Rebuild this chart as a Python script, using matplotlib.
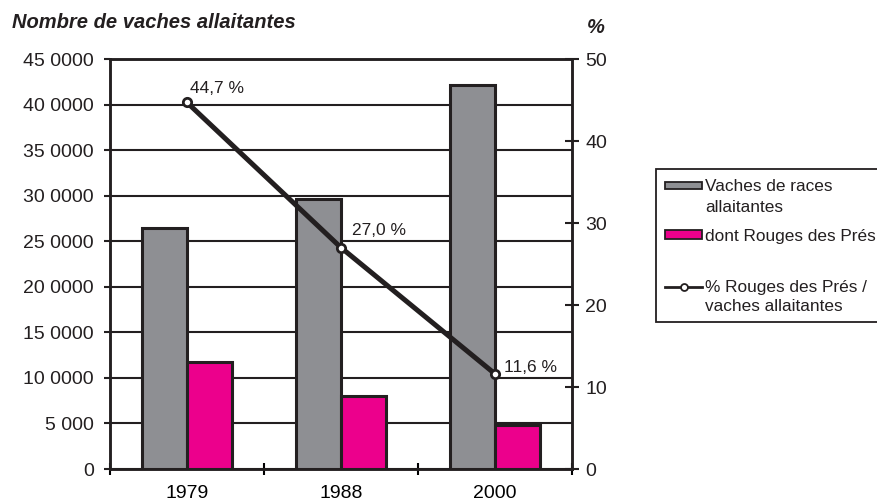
import matplotlib
matplotlib.use("Agg")
import matplotlib.pyplot as plt
from matplotlib.patches import Rectangle
from matplotlib.lines import Line2D

plt.rcParams['font.family'] = ['Liberation Sans', 'DejaVu Sans']

# ---- data ----
categories = ['1979', '1988', '2000']
total_allaitantes = [264000, 296000, 421500]
rouges_des_pres = [117500, 80000, 48500]
pct_rouges = [44.7, 27.0, 11.6]
pct_labels = ['44,7 %', '27,0 %', '11,6 %']
left_ticks = [0, 50000, 100000, 150000, 200000, 250000, 300000, 350000, 400000, 450000]
left_tick_labels = ['0', '5 000', '10 0000', '15 0000', '20 0000', '25 0000',
                    '30 0000', '35 0000', '40 0000', '45 0000']
right_ticks = [0, 10, 20, 30, 40, 50]
right_tick_labels = ['0', '10', '20', '30', '40', '50']
legend_lines = ['Vaches de races', 'allaitantes', 'dont Rouges des Prés',
                '% Rouges des Prés /', 'vaches allaitantes']

GRAY = '#8e8f93'
PINK = '#ec008c'
INK = '#231f20'
W, H = 877, 503

fig = plt.figure(figsize=(W / 100, H / 100), dpi=100)
ax_l, ax_r, ax_t, ax_b = 110, 572, 59, 469
ax = fig.add_axes([ax_l / W, 1 - ax_b / H, (ax_r - ax_l) / W, (ax_b - ax_t) / H])

x = list(range(len(categories)))
bw = 0.29
ax.bar([i - bw / 2 for i in x], total_allaitantes, width=bw, color=GRAY,
       edgecolor=INK, linewidth=2.2, zorder=2)
ax.bar([i + bw / 2 for i in x], rouges_des_pres, width=bw, color=PINK,
       edgecolor=INK, linewidth=2.2, zorder=2)

ax.set_xlim(-0.5, 2.5)
ax.set_ylim(0, 450000)
ax.set_yticks(left_ticks)
ax.set_yticklabels(left_tick_labels, fontsize=14)
ax.yaxis.grid(True, color=INK, linewidth=1.5)
ax.set_axisbelow(True)
ax.tick_params(axis='y', direction='out', length=4.5, width=1.5, pad=7, colors=INK)
ax.set_xticks([-0.5, 0.5, 1.5, 2.5])
ax.set_xticklabels([])
ax.set_xticks(x, minor=True)
ax.set_xticklabels(categories, minor=True, fontsize=14)
ax.tick_params(axis='x', which='major', direction='inout', length=9, width=1.5)
ax.tick_params(axis='x', which='minor', length=0, pad=11.5)
for s in ax.spines.values():
    s.set_color(INK)
    s.set_linewidth(1.8)

ax2 = ax.twinx()
ax2.set_ylim(0, 50)
ax2.set_yticks(right_ticks)
ax2.set_yticklabels(right_tick_labels, fontsize=14)
ax2.tick_params(axis='y', direction='inout', length=10, width=1.5, pad=4.5, colors=INK)
for s in ax2.spines.values():
    s.set_color(INK)
    s.set_linewidth(1.8)
ax2.plot(x, pct_rouges, color=INK, linewidth=3.6, marker='o', markersize=6,
         markerfacecolor='white', markeredgecolor=INK, markeredgewidth=2, zorder=5)
offsets = [(2, 10), (8, 12), (6.5, 4.3)]
for xi, yi, lab, off in zip(x, pct_rouges, pct_labels, offsets):
    ax2.annotate(lab, (xi, yi), xytext=off, textcoords='offset points',
                 ha='left', va='center', fontsize=12.5, color=INK)

fig.text(12 / W, 1 - 22.5 / H, 'Nombre de vaches allaitantes', fontsize=14.5,
         fontweight='bold', style='italic', ha='left', va='center', color=INK)
fig.text(587 / W, 1 - 27.5 / H, '%', fontsize=14.5, fontweight='bold', style='italic',
         ha='left', va='center', color=INK)

# ---- legend (drawn in figure pixel coords) ----
def fx(px):
    return px / W

def fy(py):
    return 1 - py / H

fig.add_artist(Rectangle((fx(656), fy(322)), fx(890) - fx(656), fy(169) - fy(322),
                         transform=fig.transFigure, facecolor='white',
                         edgecolor=INK, linewidth=1.3, clip_on=False))
fig.add_artist(Rectangle((fx(665), fy(189)), fx(702) - fx(665), fy(182) - fy(189),
                         transform=fig.transFigure, facecolor=GRAY,
                         edgecolor=INK, linewidth=1.3))
fig.add_artist(Rectangle((fx(665), fy(239)), fx(702) - fx(665), fy(230) - fy(239),
                         transform=fig.transFigure, facecolor=PINK,
                         edgecolor=INK, linewidth=1.3))
fig.add_artist(Line2D([fx(665), fx(702)], [fy(287), fy(287)], transform=fig.transFigure,
                      color=INK, linewidth=2))
fig.add_artist(Line2D([fx(683.5)], [fy(287)], transform=fig.transFigure, marker='o',
                      markersize=5, markerfacecolor='white', markeredgecolor=INK,
                      markeredgewidth=1.3, linestyle='none'))
baselines = [191, 212, 241, 292, 311]
for txt, by in zip(legend_lines, baselines):
    fig.text(fx(705), fy(by), txt, fontsize=12.4, ha='left', va='baseline', color=INK)

fig.savefig('out.png', dpi=100)
